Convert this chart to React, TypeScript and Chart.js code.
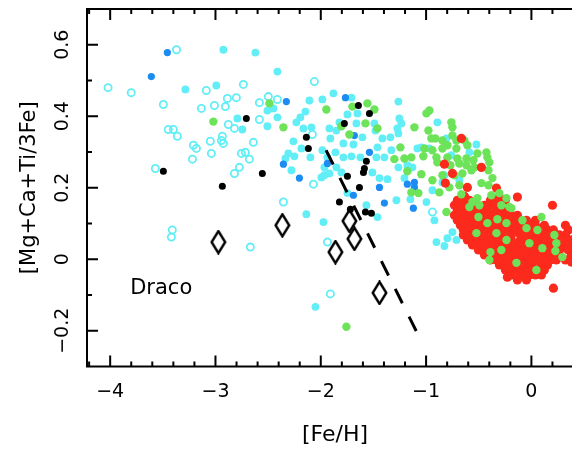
import { useEffect, useRef } from 'react';
import { Chart, registerables } from 'chart.js';
Chart.register(...registerables);

type P = [number, number];

const xTickValues = [-4, -3, -2, -1, 0];
const xTickLabels = ['−4', '−3', '−2', '−1', '0'];
const yTickValues = [-0.2, 0, 0.2, 0.4, 0.6];
const yTickLabels = ['−0.2', '0', '0.2', '0.4', '0.6'];
const xTitle = '[Fe/H]';
const yTitle = '[Mg+Ca+Ti/3Fe]';
const galaxyLabel = 'Draco';
const galaxyLabelPos: P = [-3.81, -0.083];

const openCyan: P[] = [
  [-4.02, 0.48], [-3.8, 0.466], [-3.37, 0.586], [-3.495, 0.433], [-3.087, 0.472], [-2.735, 0.489],
  [-2.887, 0.45], [-2.802, 0.452], [-3.01, 0.43], [-2.906, 0.427], [-3.134, 0.422], [-3.448, 0.363],
  [-3.4, 0.363], [-3.362, 0.344], [-2.878, 0.377], [-2.82, 0.366], [-3.049, 0.33], [-2.935, 0.344],
  [-2.944, 0.332], [-2.925, 0.324], [-3.21, 0.319], [-3.181, 0.31], [-3.039, 0.296], [-3.219, 0.28],
  [-2.754, 0.296], [-2.716, 0.299], [-2.678, 0.28], [-2.773, 0.257], [-2.82, 0.24], [-3.571, 0.254],
  [-2.355, 0.16], [-3.41, 0.082], [-3.419, 0.062], [-2.669, 0.034], [-2.583, 0.438], [-2.498, 0.455],
  [-2.412, 0.447], [-2.061, 0.497], [-2.08, 0.349], [-2.64, 0.327], [-2.583, 0.391], [-2.07, 0.21],
  [-1.937, 0.048], [-1.909, -0.097], [-0.94, 0.132],
];

const cyanStars: P[] = [
  [-2.925, 0.586], [-2.621, 0.578], [-2.412, 0.525], [-3.286, 0.475], [-2.992, 0.486], [-2.792, 0.394],
  [-2.745, 0.363], [-2.507, 0.416], [-2.45, 0.422], [-2.412, 0.397], [-2.507, 0.372], [-2.108, 0.444],
  [-2.146, 0.413], [-2.194, 0.397], [-2.232, 0.383], [-2.165, 0.366], [-2.26, 0.33], [-2.308, 0.296],
  [-2.336, 0.282], [-2.251, 0.288], [-2.184, 0.31], [-2.099, 0.285], [-2.089, 0.369], [-1.985, 0.447],
  [-1.88, 0.464], [-1.709, 0.452], [-1.747, 0.405], [-1.652, 0.408], [-1.823, 0.383], [-1.918, 0.366],
  [-1.852, 0.36], [-1.605, 0.341], [-1.662, 0.38], [-1.491, 0.38], [-1.481, 0.36], [-1.415, 0.338],
  [-1.339, 0.341], [-1.909, 0.338], [-1.785, 0.324], [-1.69, 0.321], [-1.985, 0.305], [-1.937, 0.285],
  [-1.861, 0.299], [-1.785, 0.285], [-1.709, 0.288], [-1.624, 0.285], [-1.472, 0.285], [-1.396, 0.285],
  [-1.462, 0.313], [-1.33, 0.305], [-1.263, 0.441], [-1.254, 0.394], [-1.235, 0.38], [-1.273, 0.366],
  [-1.263, 0.352], [-1.263, 0.257], [-1.178, 0.263], [-1.13, 0.257], [-1.206, 0.227], [-2.279, 0.249],
  [-1.966, 0.257], [-1.966, 0.235], [-1.852, 0.257], [-1.804, 0.243], [-1.918, 0.24], [-1.994, 0.229],
  [-1.51, 0.243], [-1.443, 0.227], [-1.367, 0.224], [-1.747, 0.185], [-1.567, 0.151], [-1.462, 0.118],
  [-1.282, 0.165], [-1.149, 0.168], [-0.997, 0.16], [-0.94, 0.193], [-0.845, 0.215], [-0.826, 0.235],
  [-0.684, 0.221], [-1.083, 0.31], [-1.045, 0.313], [-0.969, 0.31], [-0.893, 0.383], [-0.807, 0.338],
  [-0.589, 0.299], [-0.522, 0.321], [-0.76, 0.291], [-0.921, 0.109], [-0.902, 0.048], [-0.826, 0.037],
  [-0.798, 0.059], [-0.75, 0.076], [-0.712, 0.054], [-2.137, 0.126], [-1.975, 0.104], [-2.051, -0.133],
];

const blueStars: P[] = [
  [-3.457, 0.578], [-3.609, 0.511], [-2.327, 0.441], [-1.766, 0.452], [-2.355, 0.266], [-2.203, 0.227],
  [-1.681, 0.346], [-1.538, 0.299], [-1.937, 0.268], [-1.69, 0.179], [-1.396, 0.157], [-1.443, 0.201],
  [-1.178, 0.21], [-1.111, 0.215], [-1.111, 0.201], [-1.121, 0.143],
];

const blackStars: P[] = [
  [-2.707, 0.394], [-3.495, 0.246], [-2.935, 0.204], [-2.555, 0.24], [-2.137, 0.341], [-2.118, 0.31],
  [-1.643, 0.43], [-1.538, 0.408], [-1.776, 0.38], [-1.567, 0.274], [-1.586, 0.254], [-1.595, 0.243],
  [-1.747, 0.232], [-1.633, 0.201], [-1.823, 0.16], [-1.719, 0.14], [-1.576, 0.132], [-1.519, 0.129],
];

const greenStars: P[] = [
  [-3.02, 0.385], [-2.488, 0.436], [-1.947, 0.419], [-1.7, 0.427], [-1.557, 0.436], [-1.491, 0.419],
  [-1.804, 0.372], [-1.576, 0.38], [-1.728, 0.349], [-2.355, 0.369], [-1.462, 0.366], [-1.244, 0.313],
  [-1.301, 0.28], [-1.206, 0.282], [-1.14, 0.285], [-1.178, 0.246], [-1.757, -0.189], [-0.969, 0.416],
  [-0.997, 0.408], [-1.111, 0.369], [-0.978, 0.36], [-0.76, 0.383], [-0.75, 0.369], [-0.95, 0.338],
  [-0.912, 0.338], [-0.845, 0.332], [-0.75, 0.346], [-0.712, 0.332], [-0.636, 0.332], [-0.608, 0.319],
  [-0.798, 0.319], [-0.712, 0.31], [-1.016, 0.31], [-0.94, 0.305], [-0.845, 0.31], [-0.513, 0.296],
  [-0.427, 0.299], [-0.418, 0.285], [-1.026, 0.288], [-0.902, 0.285], [-0.798, 0.285], [-0.703, 0.282],
  [-0.617, 0.282], [-0.551, 0.277], [-0.893, 0.271], [-0.769, 0.263], [-0.684, 0.268], [-0.617, 0.263],
  [-0.541, 0.257], [-0.399, 0.271], [-0.408, 0.249], [-0.37, 0.227], [-0.57, 0.249], [-0.655, 0.24],
  [-1.045, 0.238], [-0.94, 0.221], [-0.845, 0.235], [-0.731, 0.235], [-0.779, 0.201], [-0.874, 0.187],
  [-0.684, 0.207], [-0.475, 0.213], [-0.408, 0.207], [-0.807, 0.132], [-1.14, 0.187], [-1.073, 0.185],
];

const greenCluster: P[] = [
  [-0.665, 0.182], [-0.513, 0.171], [-0.56, 0.16], [-0.38, 0.179], [-0.304, 0.185], [-0.237, 0.171],
  [-0.19, 0.143], [0.095, 0.118], [-0.589, 0.146], [-0.503, 0.118], [-0.522, 0.073], [-0.418, 0.101],
  [-0.323, 0.112], [-0.237, 0.101], [-0.085, 0.109], [-0.047, 0.087], [0.057, 0.082], [0.218, 0.068],
  [0.237, 0.045], [0.228, 0.023], [0.294, 0.006], [-0.389, 0.02], [-0.399, -0.002], [-0.285, 0.026],
  [-0.142, -0.01], [0.047, -0.03], [0.104, 0.031], [-0.019, 0.045], [-0.285, 0.151], [-0.209, 0.146],
  [-0.332, 0.073], [-0.237, 0.054], [-0.494, 0.151],
];

const redStars: P[] = [
  [-0.665, 0.338], [-0.826, 0.266], [-0.75, 0.24], [-0.475, 0.257], [-0.608, 0.201], [-0.817, 0.213],
  [-0.332, 0.199], [-0.636, 0.176], [-0.304, 0.174], [-0.133, 0.174], [0.2, 0.151], [0.209, -0.081],
  [-0.228, -0.05], [0.38, -0.008], [0.332, 0.031],
  [-0.703, 0.165], [-0.646, 0.165], [-0.589, 0.165], [-0.389, 0.165], [-0.332, 0.165], [-0.247, 0.165],
  [-0.731, 0.151], [-0.674, 0.151], [-0.617, 0.151], [-0.532, 0.151], [-0.446, 0.151], [-0.361, 0.151], [-0.304, 0.151],
  [-0.703, 0.137], [-0.646, 0.137], [-0.589, 0.137], [-0.503, 0.137], [-0.418, 0.137], [-0.332, 0.137], [-0.275, 0.137], [-0.218, 0.137],
  [-0.731, 0.123], [-0.674, 0.123], [-0.617, 0.123], [-0.56, 0.123], [-0.475, 0.123], [-0.389, 0.123], [-0.304, 0.123],
  [-0.247, 0.123], [-0.19, 0.123], [-0.133, 0.123],
  [-0.703, 0.109], [-0.646, 0.109], [-0.589, 0.109], [-0.532, 0.109], [-0.446, 0.109], [-0.361, 0.109], [-0.275, 0.109],
  [-0.19, 0.109], [-0.133, 0.109], [-0.047, 0.109], [0.038, 0.109],
  [-0.674, 0.095], [-0.617, 0.095], [-0.56, 0.095], [-0.503, 0.095], [-0.418, 0.095], [-0.332, 0.095], [-0.247, 0.095],
  [-0.161, 0.095], [-0.104, 0.095], [-0.019, 0.095], [0.038, 0.095], [0.123, 0.095], [0.323, 0.095],
  [-0.646, 0.082], [-0.589, 0.082], [-0.532, 0.082], [-0.475, 0.082], [-0.389, 0.082], [-0.304, 0.082], [-0.218, 0.082],
  [-0.161, 0.082], [-0.076, 0.082], [0.009, 0.082], [0.066, 0.082], [0.152, 0.082], [0.209, 0.082], [0.351, 0.082],
  [-0.646, 0.068], [-0.589, 0.068], [-0.532, 0.068], [-0.446, 0.068], [-0.361, 0.068], [-0.275, 0.068], [-0.19, 0.068],
  [-0.104, 0.068], [-0.019, 0.068], [0.038, 0.068], [0.123, 0.068], [0.18, 0.068], [0.266, 0.068], [0.323, 0.068],
  [-0.608, 0.054], [-0.532, 0.054], [-0.475, 0.054], [-0.418, 0.054], [-0.332, 0.054], [-0.247, 0.054], [-0.19, 0.054],
  [-0.104, 0.054], [-0.047, 0.054], [0.038, 0.054], [0.095, 0.054], [0.18, 0.054], [0.237, 0.054], [0.323, 0.054], [0.38, 0.054],
  [-0.56, 0.04], [-0.503, 0.04], [-0.418, 0.04], [-0.361, 0.04], [-0.275, 0.04], [-0.218, 0.04], [-0.133, 0.04],
  [-0.076, 0.04], [0.009, 0.04], [0.066, 0.04], [0.152, 0.04], [0.209, 0.04], [0.294, 0.04], [0.351, 0.04],
  [-0.503, 0.026], [-0.446, 0.026], [-0.361, 0.026], [-0.304, 0.026], [-0.218, 0.026], [-0.161, 0.026], [-0.076, 0.026],
  [-0.019, 0.026], [0.066, 0.026], [0.123, 0.026], [0.18, 0.026], [0.266, 0.026], [0.351, 0.026],
  [-0.446, 0.012], [-0.389, 0.012], [-0.304, 0.012], [-0.247, 0.012], [-0.161, 0.012], [-0.104, 0.012], [-0.019, 0.012],
  [0.038, 0.012], [0.123, 0.012], [0.18, 0.012], [0.266, 0.012], [0.38, 0.012],
  [-0.389, -0.002], [-0.332, -0.002], [-0.247, -0.002], [-0.19, -0.002], [-0.104, -0.002], [-0.047, -0.002], [0.038, -0.002],
  [0.095, -0.002], [0.18, -0.002], [0.237, -0.002], [0.323, -0.002],
  [-0.304, -0.016], [-0.247, -0.016], [-0.19, -0.016], [-0.133, -0.016], [-0.047, -0.016], [0.009, -0.016], [0.095, -0.016], [0.152, -0.016],
  [-0.247, -0.03], [-0.19, -0.03], [-0.133, -0.03], [-0.076, -0.03], [0.009, -0.03], [0.066, -0.03], [0.123, -0.03],
  [-0.19, -0.044], [-0.104, -0.044], [-0.019, -0.044], [0.038, -0.044], [0.095, -0.044],
  [-0.133, -0.058], [-0.047, -0.058],
];

const dracoStars: P[] = [
  [-2.973, 0.048], [-2.365, 0.095], [-1.861, 0.02], [-1.728, 0.107], [-1.681, 0.057], [-1.443, -0.094],
];

const modelLine: P[] = [[-1.95, 0.305], [-1.09, -0.203]];

const FONT = '"DejaVu Sans", sans-serif';

const toXY = (arr: P[]) => arr.map(([x, y]) => ({ x, y }));

const zeroPad = (s: any) => {
  s.paddingLeft = 0;
  s.paddingRight = 0;
  s.paddingTop = 0;
  s.paddingBottom = 0;
};

const framePlugin = {
  id: 'frame',
  afterDatasetsDraw(chart: any) {
    const { ctx, chartArea } = chart;
    const { left, right, top, bottom } = chartArea;
    const xs = chart.scales.x;
    const ys = chart.scales.y;
    ctx.save();
    ctx.strokeStyle = '#000';
    ctx.lineWidth = 2;
    ctx.beginPath();
    ctx.moveTo(left, top);
    ctx.lineTo(right, top);
    ctx.lineTo(right, bottom);
    ctx.lineTo(left, bottom);
    ctx.closePath();
    ctx.stroke();
    ctx.beginPath();
    for (let i = -25; i <= 5; i++) {
      const v = i * 0.2;
      if (v < xs.min || v > xs.max) continue;
      const px = xs.getPixelForValue(v);
      const len = i % 5 === 0 ? 11 : 5;
      ctx.moveTo(px, bottom);
      ctx.lineTo(px, bottom - len);
      ctx.moveTo(px, top);
      ctx.lineTo(px, top + len);
    }
    for (let i = -5; i <= 9; i++) {
      const v = i * 0.1;
      if (v < ys.min || v > ys.max) continue;
      const py = ys.getPixelForValue(v);
      const len = i % 2 === 0 ? 11 : 5;
      ctx.moveTo(left, py);
      ctx.lineTo(left + len, py);
      ctx.moveTo(right, py);
      ctx.lineTo(right - len, py);
    }
    ctx.stroke();
    ctx.fillStyle = '#000';
    ctx.font = `21px ${FONT}`;
    ctx.textAlign = 'left';
    ctx.textBaseline = 'middle';
    ctx.fillText(galaxyLabel, xs.getPixelForValue(galaxyLabelPos[0]), ys.getPixelForValue(galaxyLabelPos[1]));
    ctx.restore();
  },
};

export default function App() {
  const ref = useRef<HTMLCanvasElement | null>(null);
  useEffect(() => {
    if (!ref.current) return;
    const dia = document.createElement('canvas');
    dia.width = 17;
    dia.height = 25;
    const dc = dia.getContext('2d')!;
    dc.strokeStyle = '#000';
    dc.lineWidth = 2.4;
    dc.lineJoin = 'miter';
    dc.beginPath();
    dc.moveTo(8.5, 1.5);
    dc.lineTo(15.3, 12.5);
    dc.lineTo(8.5, 23.5);
    dc.lineTo(1.7, 12.5);
    dc.closePath();
    dc.stroke();

    const filled = (data: P[], color: string, r: number) => ({
      type: 'scatter' as const,
      data: toXY(data),
      pointRadius: r,
      pointBackgroundColor: color,
      pointBorderWidth: 0,
      pointBorderColor: color,
      pointHoverRadius: r,
    });

    const chart = new Chart(ref.current, {
      type: 'scatter',
      data: {
        datasets: [
          {
            type: 'scatter',
            data: toXY(dracoStars),
            pointStyle: dia as any,
            pointRadius: 8,
            pointHoverRadius: 8,
          },
          {
            type: 'line',
            data: toXY(modelLine),
            borderColor: '#000',
            borderWidth: 3,
            borderDash: [16, 15],
            pointRadius: 0,
            fill: false,
            showLine: true,
          } as any,
          filled(blackStars, '#000000', 3.5),
          filled(greenCluster, '#6de35a', 4.2),
          filled(redStars, '#fb2a1c', 4.6),
          filled(greenStars, '#6de35a', 4.2),
          filled(blueStars, '#1d8cf2', 3.6),
          filled(cyanStars, '#62eef6', 3.9),
          {
            type: 'scatter',
            data: toXY(openCyan),
            pointRadius: 3.6,
            pointHoverRadius: 3.6,
            pointBackgroundColor: 'rgba(0,0,0,0)',
            pointBorderColor: '#62eef6',
            pointBorderWidth: 1.8,
          },
        ] as any,
      },
      options: {
        animation: false,
        responsive: false,
        events: [],
        layout: { autoPadding: false, padding: { top: 9, right: 1, left: 0, bottom: 0 } },
        plugins: { legend: { display: false }, tooltip: { enabled: false } },
        scales: {
          x: {
            type: 'linear',
            position: 'bottom',
            min: -4.22,
            max: 0.49,
            grid: { display: false, drawTicks: false },
            border: { display: false },
            afterBuildTicks: (s: any) => {
              s.ticks = xTickValues.map((v) => ({ value: v }));
            },
            afterFit: (s: any) => {
              s.height = 82.5;
              zeroPad(s);
            },
            ticks: {
              autoSkip: false,
              includeBounds: false,
              maxRotation: 0,
              padding: 14,
              color: '#000',
              font: { family: FONT, size: 19 },
              callback: (_v: any, i: number) => xTickLabels[i],
            },
            title: {
              display: true,
              text: xTitle,
              color: '#000',
              font: { family: FONT, size: 22 },
              padding: { top: 0, bottom: 1 },
            },
          },
          y: {
            type: 'linear',
            position: 'left',
            min: -0.3,
            max: 0.7,
            grid: { display: false, drawTicks: false },
            border: { display: false },
            afterBuildTicks: (s: any) => {
              s.ticks = yTickValues.map((v) => ({ value: v }));
            },
            afterFit: (s: any) => {
              s.width = 87;
              zeroPad(s);
            },
            ticks: {
              autoSkip: false,
              includeBounds: false,
              minRotation: 90,
              maxRotation: 90,
              crossAlign: 'center',
              padding: 1,
              color: '#000',
              font: { family: FONT, size: 19 },
              callback: (_v: any, i: number) => yTickLabels[i],
            },
            title: {
              display: true,
              text: yTitle,
              color: '#000',
              font: { family: FONT, size: 21 },
              padding: { top: 17, bottom: 0 },
            },
          },
        },
      } as any,
      plugins: [framePlugin],
    });
    return () => chart.destroy();
  }, []);

  return (
    <div style={{ position: 'absolute', left: 0, top: 0, width: 572, height: 449, overflow: 'hidden', background: '#fff' }}>
      <canvas ref={ref} width={584} height={449} style={{ display: 'block', width: 584, height: 449 }} />
    </div>
  );
}
